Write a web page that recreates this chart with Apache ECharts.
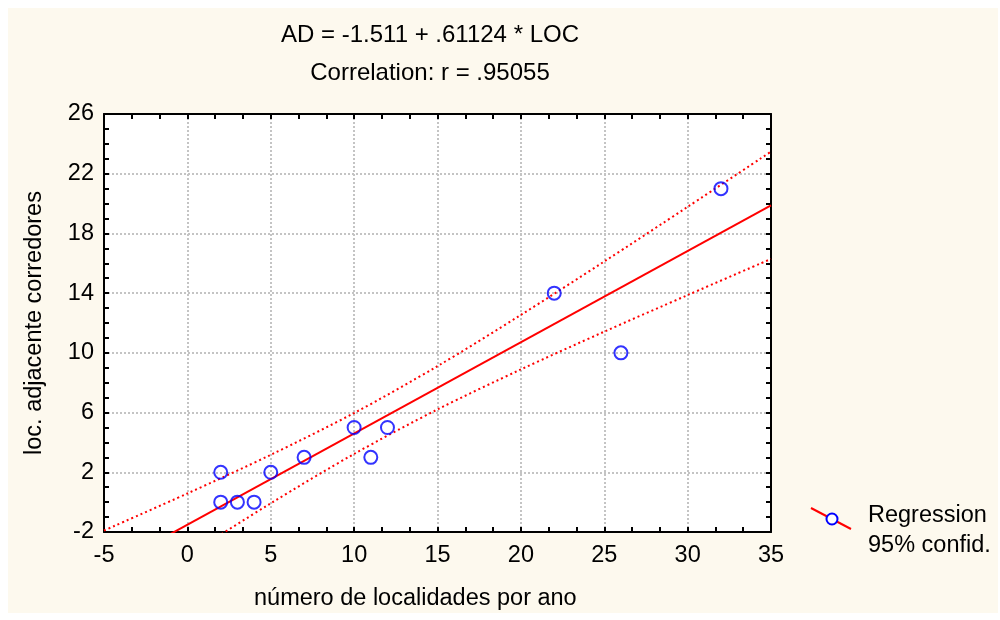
<!DOCTYPE html>
<html>
<head>
<meta charset="UTF-8">
<script src="https://cdn.jsdelivr.net/npm/echarts@6/dist/echarts.min.js"></script>
<style>
  html, body { margin: 0; padding: 0; background: #ffffff; }
  #main { width: 1000px; height: 620px; }
</style>
</head>
<body>
<div id="main"></div>
<script>
// observed data: localities per year vs adjacent corridor localities
var locX = [2, 2, 3, 4, 5, 7, 10, 11, 12, 22, 26, 32];
var adY  = [2, 0, 0, 0, 2, 3, 5, 3, 5, 14, 10, 21];

// regression line end points and 95% confidence bands
var fitX   = [-5, 35];
var fitY   = [-4.57, 19.88];
var bandX  = [-5, 0, 5, 10, 15, 20, 25, 30, 35];
var upperY = [-1.90, 0.58, 3.17, 5.97, 9.11, 12.54, 16.12, 19.78, 23.48];
var lowerY = [-7.24, -3.60, -0.08, 3.23, 6.21, 8.89, 11.42, 13.87, 16.29];

var xTicks = { min: -5, max: 35, interval: 5 };
var yTicks = { min: -2, max: 26, interval: 4 };

var font = 'Liberation Sans, Arial, sans-serif';
var fs = 23.5;
var red = '#ff0000';
var blue = '#0000ff';

function pairs(xs, ys) {
    return xs.map(function (x, i) { return [x, ys[i]]; });
}

var chart = echarts.init(document.getElementById('main'), null, { renderer: 'canvas' });

var baseAxis = {
    axisLine: { show: true, onZero: false, lineStyle: { color: '#000', width: 2 } },
    axisTick: { show: true, inside: true, length: 5, lineStyle: { color: '#000', width: 2 } },
    splitLine: { show: false },
    axisLabel: { show: false }
};

var option = {
    backgroundColor: '#ffffff',
    animation: false,
    title: [
        { text: 'AD = -1.511 + .61124 * LOC', left: 425, top: 18, textAlign: 'center',
          textStyle: { fontFamily: font, fontSize: 24, fontWeight: 'normal', color: '#000' } },
        { text: 'Correlation: r = .95055', left: 425, top: 56, textAlign: 'center',
          textStyle: { fontFamily: font, fontSize: 24, fontWeight: 'normal', color: '#000' } }
    ],
    grid: { left: 104, top: 114, width: 667, height: 418, backgroundColor: '#ffffff', show: true, borderWidth: 0 },
    graphic: [
        { type: 'rect', z: -10, silent: true,
          shape: { x: 8, y: 8, width: 990, height: 605 },
          style: { fill: '#fdf9ee' } },
        { type: 'text', left: 254, top: 587,
          style: { text: 'número de localidades por ano', font: fs + 'px ' + font, fill: '#000' } },
        // legend
        { type: 'line', shape: { x1: 811, y1: 508, x2: 851, y2: 529 },
          style: { stroke: red, lineWidth: 2 } },
        { type: 'circle', shape: { cx: 832, cy: 519, r: 5.5 },
          style: { fill: '#ffffff', stroke: blue, lineWidth: 2 } },
        { type: 'text', left: 868, top: 504,
          style: { text: 'Regression', font: fs + 'px ' + font, fill: '#000' } },
        { type: 'text', left: 868, top: 534,
          style: { text: '95% confid.', font: fs + 'px ' + font, fill: '#000' } }
    ],
    xAxis: [
        Object.assign({}, baseAxis, {
            type: 'value', position: 'bottom',
            min: xTicks.min, max: xTicks.max, interval: xTicks.interval,
            axisLabel: { show: true, fontFamily: font, fontSize: fs, color: '#000', margin: 12 },
            minorTick: { show: true, splitNumber: 3, length: 5, lineStyle: { color: '#000', width: 2 } },
            splitLine: { show: true, lineStyle: { color: '#c4c4c4', type: [2, 2], width: 2 } }
        }),
        Object.assign({}, baseAxis, {
            type: 'value', position: 'top',
            min: xTicks.min, max: xTicks.max, interval: xTicks.interval,
            minorTick: { show: true, splitNumber: 3, length: 5, lineStyle: { color: '#000', width: 2 } }
        })
    ],
    yAxis: [
        Object.assign({}, baseAxis, {
            type: 'value', position: 'left',
            min: yTicks.min, max: yTicks.max, interval: yTicks.interval,
            name: 'loc. adjacente corredores', nameLocation: 'middle', nameGap: 57,
            nameTextStyle: { fontFamily: font, fontSize: fs, color: '#000' },
            axisLabel: { show: true, fontFamily: font, fontSize: fs, color: '#000', margin: 10 },
            minorTick: { show: true, splitNumber: 4, length: 5, lineStyle: { color: '#000', width: 2 } },
            splitLine: { show: true, lineStyle: { color: '#c4c4c4', type: [2, 2], width: 2 } }
        }),
        Object.assign({}, baseAxis, {
            type: 'value', position: 'right',
            min: yTicks.min, max: yTicks.max, interval: yTicks.interval,
            minorTick: { show: true, splitNumber: 4, length: 5, lineStyle: { color: '#000', width: 2 } }
        })
    ],
    series: [
        {
            name: '95% upper', type: 'line', data: pairs(bandX, upperY),
            smooth: 0.3, showSymbol: false, clip: true, z: 3,
            lineStyle: { color: red, width: 2, type: [2, 3] }
        },
        {
            name: '95% lower', type: 'line', data: pairs(bandX, lowerY),
            smooth: 0.3, showSymbol: false, clip: true, z: 3,
            lineStyle: { color: red, width: 2, type: [2, 3] }
        },
        {
            name: 'Regression', type: 'line', data: pairs(fitX, fitY),
            showSymbol: false, clip: true, z: 4,
            lineStyle: { color: red, width: 2 }
        },
        {
            name: 'data', type: 'scatter', data: pairs(locX, adY),
            symbol: 'circle', symbolSize: 13, z: 5,
            itemStyle: { color: 'rgba(255,255,255,0)', borderColor: blue, borderWidth: 2 }
        }
    ]
};

chart.setOption(option);
</script>
</body>
</html>
